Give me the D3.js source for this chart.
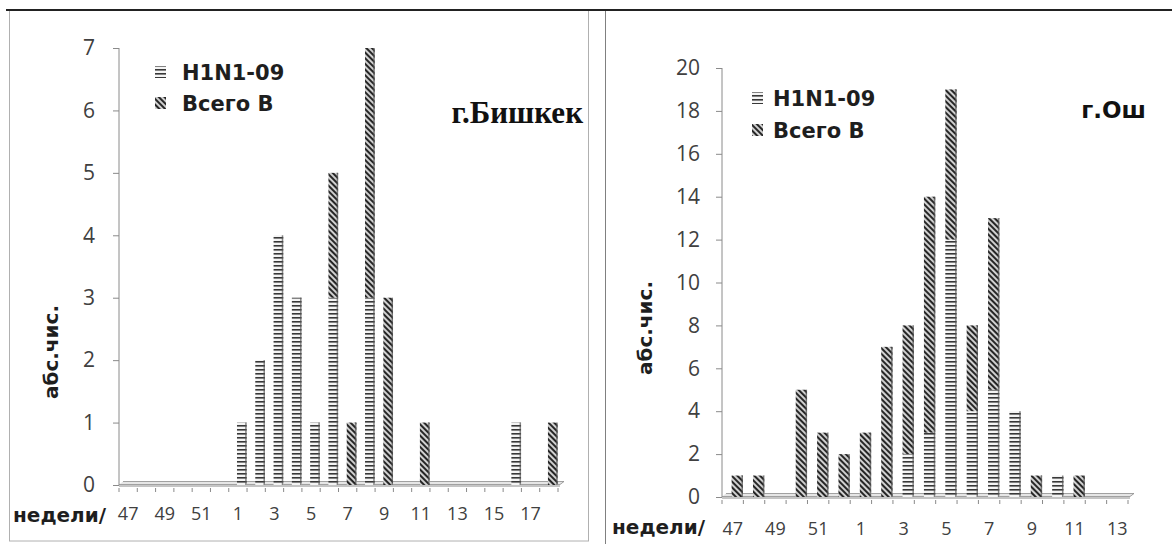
<!DOCTYPE html>
<html>
<head>
<meta charset="utf-8">
<script src="https://cdn.jsdelivr.net/npm/d3@7"></script>
<style>
  body { margin: 0; background: #fff; }
  svg { display: block; }
</style>
</head>
<body>
<script>
// weeks and counts
var weeksLeft = ["47","48","49","50","51","52","1","2","3","4","5","6","7","8","9","10","11","12","13","14","15","16","17","18"];
var h1n1Left  = [0,0,0,0,0,0, 1,2,4,3,1,3,0,3,0,0,0,0,0,0,0,1,0,0];
var fluBLeft  = [0,0,0,0,0,0, 0,0,0,0,0,2,1,4,3,0,1,0,0,0,0,0,0,1];
var labelsLeft = ["47","49","51","1","3","5","7","9","11","13","15","17"];
var yTicksLeft = [0,1,2,3,4,5,6,7];

var weeksRight = ["47","48","49","50","51","52","1","2","3","4","5","6","7","8","9","10","11","12","13"];
var h1n1Right  = [0,0,0,0,0,0, 0,0,2,3,12,4,5,4,0,1,0,0,0];
var fluBRight  = [1,1,0,5,3,2, 3,7,6,11,7,4,8,0,1,0,1,0,0];
var labelsRight = ["47","49","51","1","3","5","7","9","11","13"];
var yTicksRight = [0,2,4,6,8,10,12,14,16,18,20];

var seriesNames = ["H1N1-09", "Всего В"];

var W = 1172, H = 544;
var svg = d3.select("body").append("svg").attr("width", W).attr("height", H);

var defs = svg.append("defs");
// horizontal stripes for H1N1-09
var p1 = defs.append("pattern").attr("id", "patH1").attr("patternUnits", "userSpaceOnUse")
  .attr("width", 8).attr("height", 4);
p1.append("rect").attr("width", 8).attr("height", 4).attr("fill", "#f4f4f4");
p1.append("rect").attr("y", 1).attr("width", 8).attr("height", 1.6).attr("fill", "#383838");
// diagonal hatch for Всего В
var p2 = defs.append("pattern").attr("id", "patB").attr("patternUnits", "userSpaceOnUse")
  .attr("width", 4).attr("height", 4).attr("patternTransform", "rotate(-45)");
p2.append("rect").attr("width", 4).attr("height", 4).attr("fill", "#d0d0d0");
p2.append("rect").attr("x", 0).attr("width", 2).attr("height", 4).attr("fill", "#262626");

var fills = {"H1N1-09": "url(#patH1)", "Всего В": "url(#patB)"};

// frame lines
svg.append("rect").attr("x", 9.5).attr("y", 10).attr("width", 579).attr("height", 531)
  .attr("fill", "none").attr("stroke", "#b0b0b0");
svg.append("line").attr("x1", 605.5).attr("x2", 605.5).attr("y1", 10).attr("y2", 544)
  .attr("stroke", "#808080");
svg.append("line").attr("x1", 6).attr("x2", W).attr("y1", 10).attr("y2", 10)
  .attr("stroke", "#222").attr("stroke-width", 2);

function drawPanel(cfg) {
  var g = svg.append("g");
  var x = d3.scaleBand().domain(cfg.weeks).range(cfg.xRange).padding(0);
  var y = d3.scaleLinear().domain([0, cfg.yMax]).range(cfg.yRange);
  var bw = x.bandwidth();
  var y0 = y(0);

  var rows = cfg.weeks.map(function (w, i) {
    return {week: w, "H1N1-09": cfg.h1n1[i], "Всего В": cfg.fluB[i]};
  });
  var stacked = d3.stack().keys(seriesNames)(rows);

  // floor of the 3d chart
  g.append("path")
    .attr("d", "M" + (cfg.xRange[0] + 4) + "," + (y0 - 3.5) + "H" + (cfg.xRange[1] + 6) +
               "L" + (cfg.xRange[1] + 2) + "," + (y0 - 0.5) + "H" + cfg.xRange[0])
    .attr("fill", "#e6e6e6").attr("stroke", "#8c8c8c").attr("stroke-width", 0.8);

  // y axis
  var ya = g.append("g").attr("transform", "translate(" + cfg.xRange[0] + ",0)")
    .call(d3.axisLeft(y).tickValues(cfg.yTicks).tickSize(6).tickPadding(cfg.yPad).tickFormat(d3.format("d")));
  ya.select(".domain").attr("stroke", "#8a8a8a").attr("d", "M0," + y(cfg.yMax) + "V" + y0);
  ya.selectAll(".tick line").attr("stroke", "#8a8a8a");
  ya.selectAll("text").attr("font-family", "Open Sans").attr("font-size", 21).attr("fill", "#404040");

  // x axis: labels every other week, ticks on band edges
  var xa = g.append("g").attr("transform", "translate(0," + (y0 + 1) + ")")
    .call(d3.axisBottom(x).tickSize(0).tickPadding(cfg.xPad)
      .tickFormat(function (d) { return cfg.labels.indexOf(d) >= 0 ? d : ""; }));
  xa.select(".domain").attr("stroke", "#8a8a8a").attr("d", "M" + cfg.xRange[0] + ",0H" + (cfg.xRange[1] + 2));
  xa.selectAll("text").attr("font-family", "Open Sans").attr("font-size", 18).attr("fill", "#404040");
  g.selectAll(".xtick").data(cfg.weeks.concat(["end"])).enter().append("line")
    .attr("x1", function (d, i) { return cfg.xRange[0] + i * bw; })
    .attr("x2", function (d, i) { return cfg.xRange[0] + i * bw; })
    .attr("y1", y0 + 3).attr("y2", y0 + 7)
    .attr("stroke", "#8a8a8a");

  // stacked bars
  var layers = g.selectAll(".layer").data(stacked).enter().append("g")
    .attr("fill", function (d) { return fills[d.key]; });
  layers.selectAll("rect").data(function (d) { return d.filter(function (s) { return s[1] > s[0]; }); })
    .enter().append("rect")
    .attr("x", function (d) { return x(d.data.week) + bw * 0.45; })
    .attr("width", bw * 0.53)
    .attr("y", function (d) { return y(d[1]); })
    .attr("height", function (d) { return y(d[0]) - y(d[1]); });
  // darker right side of each column
  g.selectAll(".side").data(rows.filter(function (r) { return r["H1N1-09"] + r["Всего В"] > 0; }))
    .enter().append("rect")
    .attr("x", function (d) { return x(d.week) + bw * 0.98 - 1.5; })
    .attr("width", 1.5)
    .attr("y", function (d) { return y(d["H1N1-09"] + d["Всего В"]); })
    .attr("height", function (d) { return y0 - y(d["H1N1-09"] + d["Всего В"]); })
    .attr("fill", "#555").attr("opacity", 0.7);

  // legend
  var lg = g.append("g").attr("transform", "translate(" + cfg.legend[0] + "," + cfg.legend[1] + ")");
  seriesNames.forEach(function (name, i) {
    lg.append("rect").attr("x", 0).attr("y", i * cfg.legendStep - 6).attr("width", 11).attr("height", 12)
      .attr("fill", fills[name]);
    lg.append("text").attr("x", cfg.legendText).attr("y", i * cfg.legendStep + 7.5)
      .attr("font-family", "DejaVu Sans").attr("font-weight", "bold").attr("font-size", 21)
      .attr("fill", "#1e1e1e").text(name);
  });

  // city title
  g.append("text").attr("x", cfg.title[0]).attr("y", cfg.title[1]).attr("text-anchor", "end")
    .attr("font-family", cfg.titleFont).attr("font-weight", "bold").attr("font-size", cfg.titleSize)
    .attr("fill", "#111").text(cfg.city);

  // axis titles
  g.append("text").attr("transform", "translate(" + cfg.yTitle[0] + "," + cfg.yTitle[1] + ") rotate(-90)")
    .attr("text-anchor", "middle").attr("font-family", "DejaVu Sans").attr("font-weight", "bold")
    .attr("font-size", 20).attr("fill", "#1e1e1e").text("абс.чис.");
  g.append("text").attr("x", cfg.xTitle[0]).attr("y", cfg.xTitle[1])
    .attr("font-family", "DejaVu Sans").attr("font-weight", "bold")
    .attr("font-size", 20).attr("fill", "#1e1e1e").text("недели/");
}

drawPanel({
  weeks: weeksLeft, h1n1: h1n1Left, fluB: fluBLeft, labels: labelsLeft,
  yTicks: yTicksLeft, yMax: 7,
  xRange: [119, 558], yRange: [485, 48], yPad: 18, xPad: 21,
  legend: [155, 72], legendStep: 31, legendText: 27,
  title: [583, 123], titleFont: "Liberation Serif", titleSize: 31, city: "г.Бишкек",
  yTitle: [58, 352], xTitle: [13, 522]
});

drawPanel({
  weeks: weeksRight, h1n1: h1n1Right, fluB: fluBRight, labels: labelsRight,
  yTicks: yTicksRight, yMax: 20,
  xRange: [722, 1128], yRange: [497, 68], yPad: 16, xPad: 24,
  legend: [752, 98], legendStep: 32, legendText: 21,
  title: [1146, 118], titleFont: "DejaVu Sans", titleSize: 23, city: "г.Ош",
  yTitle: [652, 328], xTitle: [612, 534]
});
</script>
</body>
</html>
